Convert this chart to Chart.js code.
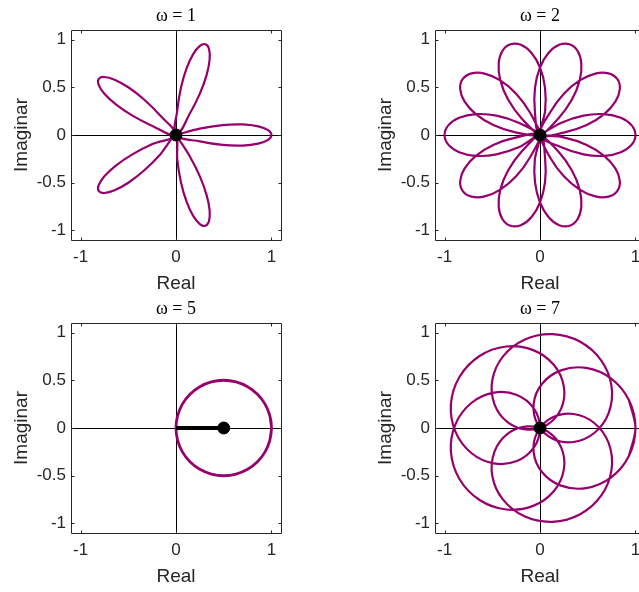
<!DOCTYPE html>
<html><head><meta charset="utf-8">
<script src="https://cdn.jsdelivr.net/npm/chart.js@4.4.1/dist/chart.umd.min.js"></script>
<style>
html,body{margin:0;padding:0;background:#fff;overflow:hidden;width:639px;height:592px;}
#stage{position:relative;width:639px;height:592px;overflow:hidden;}
canvas{position:absolute;}
</style></head><body>
<div id="stage">
<canvas id="c1" style="left:0px;top:0px" width="284" height="299"></canvas>
<canvas id="c2" style="left:364px;top:0px" width="284" height="299"></canvas>
<canvas id="c3" style="left:0px;top:293px" width="284" height="299"></canvas>
<canvas id="c4" style="left:364px;top:293px" width="284" height="299"></canvas>
</div>
<script>
const xTickValues = [-1, 0, 1];
const yTickValues = [-1, -0.5, 0, 0.5, 1];
const axisMin = -1.1, axisMax = 1.1;
const panelTitles = ['ω = 1', 'ω = 2', 'ω = 5', 'ω = 7'];
const xLabel = 'Real';
const yLabel = 'Imaginar';

// omega = 1 : five petals
const w1Curve = [
 [0,0],
 [0.2500,0.0670],[0.4891,0.1040],[0.6984,0.1106],[0.8613,0.0905],[0.9646,0.0506],[1,0],[0.9646,-0.0506],[0.8613,-0.0905],[0.6984,-0.1106],[0.4891,-0.1040],[0.2500,-0.0670],
 [0,0],
 [0.0135,0.2585],[0.0523,0.4973],[0.1106,0.6984],[0.1800,0.8471],[0.2500,0.9330],[0.3090,0.9511],[0.3462,0.9018],[0.3522,0.7911],[0.3210,0.6300],[0.2500,0.4330],[0.1409,0.2171],
 [0,0],
 [-0.2416,0.0928],[-0.4568,0.2034],[-0.6300,0.3210],[-0.7500,0.4330],[-0.8101,0.5260],[-0.8090,0.5878],[-0.7506,0.6078],[-0.6435,0.5795],[-0.5000,0.5000],[-0.3346,0.3716],[-0.1629,0.2011],
 [0,0],
 [-0.2416,-0.0928],[-0.4568,-0.2034],[-0.6300,-0.3210],[-0.7500,-0.4330],[-0.8101,-0.5260],[-0.8090,-0.5878],[-0.7506,-0.6078],[-0.6435,-0.5795],[-0.5000,-0.5000],[-0.3346,-0.3716],[-0.1629,-0.2011],
 [0,0],
 [0.0135,-0.2585],[0.0523,-0.4973],[0.1106,-0.6984],[0.1800,-0.8471],[0.2500,-0.9330],[0.3090,-0.9511],[0.3462,-0.9018],[0.3522,-0.7911],[0.3210,-0.6300],[0.2500,-0.4330],[0.1409,-0.2171],
 [0,0]
];

// omega = 2 : ten petals
const w2Curve = [
 [0,0],
 [0.2241,0.1294],[0.4568,0.2034],[0.6725,0.2185],[0.8470,0.1800],[0.9606,0.1009],[1,0],[0.9606,-0.1009],[0.8470,-0.1800],[0.6725,-0.2185],[0.4568,-0.2034],[0.2241,-0.1294],
 [0,0],
 [0.1053,0.2364],[0.2500,0.4330],[0.4156,0.5721],[0.5795,0.6435],[0.7178,0.6463],[0.8090,0.5878],[0.8365,0.4830],[0.7911,0.3522],[0.6725,0.2185],[0.4891,0.1040],[0.2574,0.0270],
 [0,0],
 [-0.0538,0.2531],[-0.0523,0.4973],[0,0.7071],[0.0905,0.8612],[0.2008,0.9447],[0.3090,0.9511],[0.3928,0.8824],[0.4330,0.7500],[0.4156,0.5721],[0.3346,0.3716],[0.1923,0.1732],
 [0,0],
 [0.0538,0.2531],[0.0523,0.4973],[0,0.7071],[-0.0905,0.8612],[-0.2008,0.9447],[-0.3090,0.9511],[-0.3928,0.8824],[-0.4330,0.7500],[-0.4156,0.5721],[-0.3346,0.3716],[-0.1923,0.1732],
 [0,0],
 [-0.1053,0.2364],[-0.2500,0.4330],[-0.4156,0.5721],[-0.5795,0.6435],[-0.7178,0.6463],[-0.8090,0.5878],[-0.8365,0.4830],[-0.7911,0.3522],[-0.6725,0.2185],[-0.4891,0.1040],[-0.2574,0.0270],
 [0,0],
 [-0.2241,0.1294],[-0.4568,0.2034],[-0.6725,0.2185],[-0.8470,0.1800],[-0.9606,0.1009],[-1,0],[-0.9606,-0.1009],[-0.8470,-0.1800],[-0.6725,-0.2185],[-0.4568,-0.2034],[-0.2241,-0.1294],
 [0,0],
 [-0.1053,-0.2364],[-0.2500,-0.4330],[-0.4156,-0.5721],[-0.5795,-0.6435],[-0.7178,-0.6463],[-0.8090,-0.5878],[-0.8365,-0.4830],[-0.7911,-0.3522],[-0.6725,-0.2185],[-0.4891,-0.1040],[-0.2574,-0.0270],
 [0,0],
 [0.0538,-0.2531],[0.0523,-0.4973],[0,-0.7071],[-0.0905,-0.8612],[-0.2008,-0.9447],[-0.3090,-0.9511],[-0.3928,-0.8824],[-0.4330,-0.7500],[-0.4156,-0.5721],[-0.3346,-0.3716],[-0.1923,-0.1732],
 [0,0],
 [-0.0538,-0.2531],[-0.0523,-0.4973],[0,-0.7071],[0.0905,-0.8612],[0.2008,-0.9447],[0.3090,-0.9511],[0.3928,-0.8824],[0.4330,-0.7500],[0.4156,-0.5721],[0.3346,-0.3716],[0.1923,-0.1732],
 [0,0],
 [0.1053,-0.2364],[0.2500,-0.4330],[0.4156,-0.5721],[0.5795,-0.6435],[0.7178,-0.6463],[0.8090,-0.5878],[0.8365,-0.4830],[0.7911,-0.3522],[0.6725,-0.2185],[0.4891,-0.1040],[0.2574,-0.0270],
 [0,0]
];

// omega = 5 : circle through 0 and 1
const w5Curve = [
 [0.9830,-0.1294],
 [1,0],[0.9830,0.1294],[0.9330,0.25],[0.8536,0.3536],[0.75,0.4330],[0.6294,0.4830],[0.5,0.5],
 [0.3706,0.4830],[0.25,0.4330],[0.1464,0.3536],[0.0670,0.25],[0.0170,0.1294],[0,0],
 [0.0170,-0.1294],[0.0670,-0.25],[0.1464,-0.3536],[0.25,-0.4330],[0.3706,-0.4830],[0.5,-0.5],
 [0.6294,-0.4830],[0.75,-0.4330],[0.8536,-0.3536],[0.9330,-0.25],[0.9830,-0.1294],[1,0],
 [0.9830,0.1294]
];

// omega = 7 : looping curve
const w7Curve = [
 [0.9311,-0.2936],
 [1,0],[0.9311,0.2936],[0.7424,0.5198],[0.4830,0.6294],[0.2199,0.6040],[0.0202,0.4613],[-0.0670,0.2500],[-0.0234,0.0368],
 [0.1330,-0.1116],[0.3536,-0.1465],[0.5714,-0.0500],[0.7198,0.1596],[0.7500,0.4330],[0.6443,0.7032],[0.4210,0.9029],[0.1294,0.9830],
 [-0.1632,0.9254],[-0.3894,0.7481],[-0.5000,0.5000],[-0.4766,0.2481],[-0.3368,0.0594],[-0.1294,-0.0171],[0.0790,0.0369],[0.2217,0.2032],
 [0.2500,0.4330],[0.1462,0.6596],[-0.0714,0.8160],[-0.3536,0.8536],[-0.6330,0.7544],[-0.8426,0.5368],[-0.9330,0.2500],[-0.8862,-0.0387],
 [-0.7199,-0.2620],[-0.4830,-0.3706],[-0.2424,-0.3462],[-0.0651,-0.2064],[0,0],[-0.0651,0.2064],[-0.2424,0.3462],[-0.4830,0.3706],
 [-0.7199,0.2620],[-0.8862,0.0387],[-0.9330,-0.2500],[-0.8426,-0.5368],[-0.6330,-0.7544],[-0.3536,-0.8536],[-0.0714,-0.8160],[0.1462,-0.6596],
 [0.2500,-0.4330],[0.2217,-0.2032],[0.0790,-0.0369],[-0.1294,0.0171],[-0.3368,-0.0594],[-0.4766,-0.2481],[-0.5000,-0.5000],[-0.3894,-0.7481],
 [-0.1632,-0.9254],[0.1294,-0.9830],[0.4210,-0.9029],[0.6443,-0.7032],[0.7500,-0.4330],[0.7198,-0.1596],[0.5714,0.0500],[0.3536,0.1465],
 [0.1330,0.1116],[-0.0234,-0.0368],[-0.0670,-0.2500],[0.0202,-0.4613],[0.2199,-0.6040],[0.4830,-0.6294],[0.7424,-0.5198],[0.9311,-0.2936],
 [1,0],[0.9311,0.2936]
];

// centre of mass markers
const centers = [[0,0],[0,0],[0.5,0],[0,0]];

const PURPLE = 'rgb(150,0,110)';
const INK = '#262626';
const toXY = arr => arr.map(p => ({x: p[0], y: p[1]}));

// wanted plot box inside each canvas (px)
const BOX = {left: 71, right: 281, top: 30, bottom: 240};

const framePlugin = {
  id: 'frame',
  afterDatasetsDraw(chart) {
    const {ctx, chartArea: a, scales} = chart;
    const L = Math.round(a.left) + 0.5, R = Math.round(a.right) + 0.5;
    const T = Math.round(a.top) + 0.5, B = Math.round(a.bottom) + 0.5;
    const tl = 3;
    ctx.save();
    ctx.strokeStyle = INK;
    ctx.lineWidth = 1;
    ctx.beginPath();
    ctx.rect(L, T, R - L, B - T);
    for (const v of xTickValues) {
      const p = Math.round(scales.x.getPixelForValue(v)) + 0.5;
      ctx.moveTo(p, B); ctx.lineTo(p, B - tl);
      ctx.moveTo(p, T); ctx.lineTo(p, T + tl);
    }
    for (const v of yTickValues) {
      const p = Math.round(scales.y.getPixelForValue(v)) + 0.5;
      ctx.moveTo(L, p); ctx.lineTo(L + tl, p);
      ctx.moveTo(R, p); ctx.lineTo(R - tl, p);
    }
    ctx.stroke();
    ctx.restore();
  }
};

const tickFont = {family: 'Liberation Sans', size: 17};
const labelFont = {family: 'Liberation Sans', size: 19};
const zeroGrid = ctx => (ctx.tick && ctx.tick.value === 0) ? '#000' : 'rgba(0,0,0,0)';

function makeChart(id, title, curve, center, withArm, curveWidth) {
  const datasets = [
    {data: toXY([center]), showLine: false, pointRadius: 6, pointBorderWidth: 1,
     pointBackgroundColor: '#000', pointBorderColor: '#000'}
  ];
  if (withArm) {
    datasets.push({data: toXY([[0, 0], center]), showLine: true, borderColor: '#000',
      borderWidth: 4, pointRadius: 0, tension: 0});
  }
  datasets.push({data: toXY(curve), showLine: true, borderColor: PURPLE, borderWidth: curveWidth,
    pointRadius: 0, tension: 0.34, borderJoinStyle: 'round', borderCapStyle: 'round'});

  const chart = new Chart(document.getElementById(id), {
    type: 'scatter',
    data: {datasets},
    options: {
      responsive: false, animation: false, devicePixelRatio: 1,
      layout: {autoPadding: false, padding: {left: 0, right: 3, top: 0, bottom: 0}},
      plugins: {
        legend: {display: false}, tooltip: {enabled: false},
        title: {display: true, text: title, fullSize: false, color: '#000',
          font: {family: 'Liberation Serif', size: 18, weight: 'normal', lineHeight: 1.2},
          padding: {top: 5.5, bottom: 2.9}}
      },
      scales: {
        x: {
          type: 'linear', min: axisMin, max: axisMax,
          afterBuildTicks: s => { s.ticks = xTickValues.map(v => ({value: v})); },
          afterFit: s => { s.height = 59; s.paddingLeft = 0; s.paddingRight = 0; },
          ticks: {font: tickFont, color: INK, padding: 7.3, maxRotation: 0, autoSkip: false,
            callback: v => String(v)},
          grid: {color: zeroGrid, drawTicks: false, lineWidth: 1},
          border: {display: false},
          title: {display: true, text: xLabel, font: labelFont, color: INK, padding: {top: 0, bottom: 4.3}}
        },
        y: {
          type: 'linear', min: axisMin, max: axisMax,
          afterBuildTicks: s => { s.ticks = yTickValues.map(v => ({value: v})); },
          afterFit: s => { s.width = 71; s.paddingTop = 0; s.paddingBottom = 0; },
          ticks: {font: tickFont, color: INK, padding: 5, autoSkip: false,
            callback: v => String(v)},
          grid: {color: zeroGrid, drawTicks: false, lineWidth: 1},
          border: {display: false},
          title: {display: true, text: yLabel, font: labelFont, color: INK, padding: {top: 10.1, bottom: 0}}
        }
      }
    },
    plugins: [framePlugin]
  });

  // nudge the layout so the plot box lands where the reference has it
  const opts = chart.config.options;
  for (let i = 0; i < 5; i++) {
    const a = chart.chartArea;
    const dL = a.left - BOX.left, dR = a.right - BOX.right;
    const dT = a.top - BOX.top, dB = a.bottom - BOX.bottom;
    if (Math.abs(dL) + Math.abs(dR) + Math.abs(dT) + Math.abs(dB) < 0.1) break;
    opts.layout.padding.left -= dL;
    opts.layout.padding.right += dR;
    opts.plugins.title.padding.bottom -= dT;
    opts.layout.padding.bottom += dB;
    chart.update();
  }
  return chart;
}

makeChart('c1', panelTitles[0], w1Curve, centers[0], false, 2.2);
makeChart('c2', panelTitles[1], w2Curve, centers[1], false, 2.2);
makeChart('c3', panelTitles[2], w5Curve, centers[2], true, 2.8);
makeChart('c4', panelTitles[3], w7Curve, centers[3], false, 2.2);
</script>
</body></html>
